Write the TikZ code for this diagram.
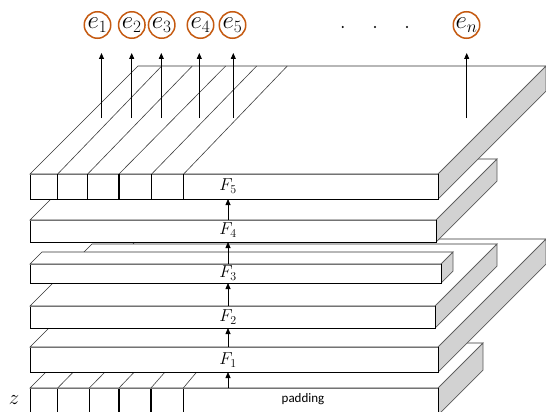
\documentclass[tikz,border=0pt]{standalone}
\usepackage{fontspec}
\newfontfamily\padfont{Carlito}
\usetikzlibrary{arrows.meta}
\definecolor{eorange}{HTML}{C55A11}
\definecolor{sidegray}{HTML}{D2D2D2}
\definecolor{edgegray}{HTML}{5A5A5A}
\tikzset{
  frontface/.style={fill=white,draw=black,line width=0.8pt},
  topface/.style={fill=white,draw=black!80,line width=0.6pt},
  sideface/.style={fill=sidegray,draw=edgegray,line width=0.7pt},
  divline/.style={draw=black,line width=1.1pt},
  diagline/.style={draw=black!75,line width=0.6pt},
  upar/.style={draw=black,line width=0.8pt,-{Triangle[width=5pt,length=6pt]}},
  enode/.style={circle,draw=eorange,line width=1.5pt,minimum size=26.5pt,inner sep=0pt,font=\fontsize{23}{23}\selectfont},
  flabel/.style={font=\fontsize{17}{17}\selectfont,inner sep=0pt},
}
% slab: x0, x1, ytop, height, depth
\newcommand{\myslab}[5]{%
  \filldraw[topface] (#1,#3) -- (#1+#5,#3-#5) -- (#2+#5,#3-#5) -- (#2,#3) -- cycle;
  \filldraw[sideface] (#2,#3) -- (#2+#5,#3-#5) -- (#2+#5,#3-#5+#4) -- (#2,#3+#4) -- cycle;
  \fill[white] (#1,#3) rectangle (#2,#3+#4);
  \draw[black,line width=0.8pt] (#1,#3) -- (#1,#3+#4) -- (#2,#3+#4) -- (#2,#3);
  \draw[black!55,line width=0.8pt] (#1,#3) -- (#2,#3);
}
\begin{document}
\begin{tikzpicture}[x=1pt,y=-1pt]
\useasboundingbox (0,0) rectangle (546,412);
\clip (0,0) rectangle (546,412);
% bottom (input) slab
\myslab{30}{438}{388}{27}{45}
\foreach \a/\b in {57.7/73.3,89.3/105,119/134.3,151/165,183.3/196.7}{
  \draw[diagline] (\a,388) -- (\b,372);
  \draw[divline] (\a,388) -- (\a,415);
}
\draw[black!55,line width=0.8pt] (30,388) -- (438,388);
% F1
\myslab{30}{438}{347}{25}{108}
% F2
\myslab{30}{435}{306}{22}{62}
% F3
\myslab{30}{441}{264}{19}{12}
% F4
\myslab{30}{436}{220}{22}{61}
% F5
\myslab{30}{438}{174}{25}{108}
\foreach \a/\b in {57.7/161.7,87.7/192.3,119/225.7,151.7/256.7,183.7/287.3}{
  \draw[diagline] (\a,174) -- (\b,66);
  \draw[divline] (\a,174) -- (\a,199);
}
% labels
\node[flabel] (f5) at (228,186) {$F_5$};
\node[flabel] (f4) at (228,230) {$F_4$};
\node[flabel] (f3) at (228,273) {$F_3$};
\node[flabel] (f2) at (228,317) {$F_2$};
\node[flabel] (f1) at (228,360) {$F_1$};
\node[font=\fontsize{21}{21}\selectfont,inner sep=0pt] (z) at (14,400) {$z$};
\node[font=\padfont\fontsize{13}{13}\selectfont,inner sep=0pt] (pad) at (303,399) {padding};
% small arrows between layers
\coordinate (s0) at (228,388); \coordinate (t0) at (228,372);
\coordinate (s1) at (228,347); \coordinate (t1) at (228,328);
\coordinate (s2) at (228,306); \coordinate (t2) at (228,283);
\coordinate (s3) at (228,264); \coordinate (t3) at (228,242);
\coordinate (s4) at (228,220); \coordinate (t4) at (228,199);
\foreach \i in {0,...,4}{ \draw[upar] (s\i) -- (t\i); }
% output nodes
\node[enode] (e1) at (97.5,25) {$e_1$};
\node[enode] (e2) at (131.8,25) {$e_2$};
\node[enode] (e3) at (161.7,25) {$e_3$};
\node[enode] (e4) at (200.5,25) {$e_4$};
\node[enode] (e5) at (232.5,25) {$e_5$};
\node[enode] (en) at (466.5,25) {$e_n$};
\foreach \n/\x in {1/101.5,2/131.7,3/161.3,4/199.3,5/233.3,n/466.7}{
  \coordinate (b\n) at (\x,118);
  \coordinate (h\n) at (\x,53);
  \draw[upar] (b\n) -- (h\n);
}
\foreach \x [count=\k] in {342.7,375,407}{
  \fill (\x,27) circle (1.2pt) coordinate (dot\k);
}
\end{tikzpicture}
\end{document}
